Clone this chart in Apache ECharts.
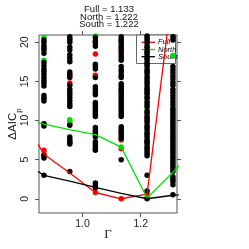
<!DOCTYPE html>
<html><head><meta charset="utf-8">
<script src="https://cdn.jsdelivr.net/npm/echarts@6/dist/echarts.min.js"></script>
<style>html,body{margin:0;padding:0;background:#fff}#c{width:249px;height:249px}</style>
</head><body><div id="c"></div>
<script>
// Gamma values of the columns
const gammaCols = [0.867, 0.956, 1.044, 1.133, 1.222, 1.311];
// Gamma values of the line vertices (lines extend past the visible range)
const gammaLine = [0.778, 0.867, 0.956, 1.044, 1.133, 1.222, 1.311, 1.4];
const fullLine  = [11.2, 5.7, 3.3, 0.8, 0.0, 0.6, 27.0, 40];
const northLine = [10.35, 9.55, 8.85, 8.2, 6.6, 0.1, 3.4, 6.9];
const southLine = [5.1, 3.0, 2.25, 1.45, 0.7, 0.0, 0.45, 0.7];

// Candidate points per column
const blackPts = [
  [20.3, 20.0, 19.6, 19.3, 19.0, 18.6, 17.4, 17.0, 16.6, 16.3, 15.9, 15.5, 15.1, 14.8, 14.4, 13.2, 12.8, 12.5, 9.6, 9.3, 5.5, 5.2, 3.0],
  [20.7, 20.4, 20.0, 19.4, 19.0, 18.4, 18.0, 17.5, 16.2, 15.8, 15.5, 14.5, 14.0, 13.6, 13.3, 12.9, 12.5, 12.1, 11.8, 9.4, 7.9, 7.6, 7.3, 7.0, 3.5],
  [20.6, 20.2, 19.9, 19.5, 17.2, 16.9, 16.6, 15.5, 14.3, 14.0, 13.6, 13.3, 12.3, 12.0, 11.7, 11.4, 11.1, 10.8, 10.5, 9.1, 8.8, 8.5, 8.2, 7.9, 7.3, 7.0, 6.7, 6.4, 6.2, 2.0, 1.7, 1.4],
  [20.7, 20.4, 20.1, 19.7, 19.4, 19.0, 18.7, 18.3, 18.0, 17.7, 16.9, 16.5, 16.2, 15.8, 15.5, 14.7, 14.4, 14.1, 13.8, 13.5, 13.2, 12.9, 12.6, 12.3, 12.0, 11.7, 11.4, 11.1, 10.8, 10.5, 9.2, 8.9, 8.6, 8.3, 8.0, 7.7, 5.0],
  [20.8, 20.5, 20.2, 19.9, 19.5, 19.3, 18.9, 18.7, 18.4, 18.0, 17.8, 17.4, 17.2, 16.9, 16.5, 16.3, 16.0, 15.6, 15.3, 15.0, 14.7, 14.3, 14.0, 13.6, 13.4, 13.0, 12.8, 12.4, 12.1, 11.8, 11.2, 10.9, 10.5, 10.3, 10.0, 9.7, 9.3, 9.1, 8.8, 8.4, 8.2, 7.9, 7.5, 7.3, 7.0, 6.6, 6.4, 6.1, 5.8, 5.5, 3.0, 1.0, 0.0],
  [20.7, 20.3, 16.9, 16.5, 16.1, 15.7, 15.3, 14.9, 14.5, 14.0, 13.6, 13.2, 12.8, 12.4, 12.0, 11.6, 11.3, 11.0, 10.7, 10.4, 10.1, 9.8, 9.5, 9.2, 8.9, 8.6, 8.3, 8.0, 7.7, 7.4, 7.1, 6.8, 6.5, 6.2, 5.9, 5.6, 5.3, 5.0, 4.7, 4.4, 4.1, 3.8, 3.5, 2.8, 2.5, 2.2, 1.8, 0.5]
];
const redPts = [
  [6.2, 5.7],
  [15.9, 14.8, 9.6, 7.2],
  [18.5, 15.8, 0.8],
  [20.2, 19.2, 13.9, 8.4, 7.5, 6.4, 0.0],
  [13.9, 7.3, 0.6],
  []
];
const greenPts = [
  [20.6, 17.7, 12.9, 9.6],
  [20.3, 17.7, 10.1, 9.9],
  [20.8, 20.0, 8.4],
  [6.6],
  [11.5, 0.1],
  [18.3]
];
const yTicks = [0, 5, 10, 15, 20];
const xTicks = [1.0, 1.2];
const titleLines = ['Full = 1.133', 'North = 1.222', 'South = 1.222'];
const legendNames = ['Full', 'North', 'South'];
const colors = {Full: '#FF0000', North: '#00E000', South: '#000000'};

function pts(arr) {
  const out = [];
  arr.forEach((col, i) => col.forEach(v => out.push([gammaCols[i], v])));
  return out;
}
function line(vals) { return gammaLine.map((g, i) => [g, vals[i]]); }

const chart = echarts.init(document.getElementById('c'), null, {renderer: 'canvas'});
const axisCol = '#555';
const font = 'Liberation Sans, Arial, Helvetica, sans-serif';

const gLeft = 39, gRight = 72, gTop = 35, gBottom = 36;

const graphic = [];
titleLines.forEach((t, i) => {
  graphic.push({type: 'text', x: 109, y: 9.7 + i * 7.3, z: 10,
    style: {text: t, font: '9.5px ' + font, fill: '#111', align: 'center', verticalAlign: 'middle'}});
});
// legend box
graphic.push({type: 'rect', z: 0, shape: {x: 136.5, y: 35, width: 39, height: 28.5},
  style: {fill: '#fff', stroke: '#666', lineWidth: 1}});
legendNames.forEach((n, i) => {
  const yy = 42.3 + i * 7.2;
  graphic.push({type: 'line', z: 0, shape: {x1: 141.5, y1: yy, x2: 155, y2: yy},
    style: {stroke: colors[n], lineWidth: 1.3}});
  graphic.push({type: 'text', z: 0, x: 158, y: yy,
    style: {text: n, font: 'italic 7.5px ' + font, fill: '#000', align: 'left', verticalAlign: 'middle'}});
});

const baseAxis = {
  axisLine: {show: false, onZero: false}, splitLine: {show: false}, nameMoveOverlap: false
};

const option = {
  animation: false,
  backgroundColor: '#fff',
  grid: {left: gLeft, right: gRight, top: gTop, bottom: gBottom, show: true,
    outerBoundsMode: 'none', containLabel: false,
    borderColor: axisCol, borderWidth: 1, backgroundColor: 'transparent'},
  xAxis: [Object.assign({}, baseAxis, {
    type: 'value', min: 0.85, max: 1.325, position: 'bottom',
    name: 'Γ', nameLocation: 'middle', nameGap: 15,
    nameTextStyle: {fontFamily: 'Liberation Serif, DejaVu Serif, serif', fontSize: 13, color: '#222'},
    axisTick: {show: true, length: 4, customValues: xTicks, lineStyle: {color: axisCol}},
    axisLabel: {show: true, customValues: xTicks, margin: 6, fontSize: 10.5, fontFamily: font, color: '#222',
      formatter: v => v.toFixed(1)}
  }), Object.assign({}, baseAxis, {
    type: 'value', min: 0.85, max: 1.325, position: 'top',
    axisTick: {show: true, length: 4, customValues: xTicks, lineStyle: {color: axisCol}},
    axisLabel: {show: false}
  })],
  yAxis: [Object.assign({}, baseAxis, {
    type: 'value', min: -1.82, max: 20.93, position: 'left',
    name: '{a|ΔAIC}{b|p}', nameLocation: 'middle', nameGap: 20, nameRotate: 90,
    nameTextStyle: {rich: {
      a: {fontFamily: font, fontSize: 11.5, color: '#222'},
      b: {fontFamily: font, fontSize: 8, color: '#222', verticalAlign: 'bottom', padding: [0, 0, -4, 0]}
    }},
    axisTick: {show: true, length: 4, customValues: yTicks, lineStyle: {color: axisCol}},
    axisLabel: {show: true, customValues: yTicks, rotate: 90, margin: 8, fontSize: 10.5, fontFamily: font, color: '#222'}
  }), Object.assign({}, baseAxis, {
    type: 'value', min: -1.82, max: 20.93, position: 'right',
    axisTick: {show: true, length: 4, customValues: yTicks, lineStyle: {color: axisCol}},
    axisLabel: {show: false}
  })],
  graphic: graphic,
  series: [
    {type: 'scatter', name: 'FullPts', data: pts(redPts), symbolSize: 5.5, itemStyle: {color: colors.Full, opacity: 1}, z: 3},
    {type: 'scatter', name: 'NorthPts', data: pts(greenPts), symbolSize: 5.5, itemStyle: {color: colors.North, opacity: 1}, z: 3},
    {type: 'scatter', name: 'SouthPts', data: pts(blackPts), symbolSize: 5.5, itemStyle: {color: '#000', opacity: 1}, z: 3},
    {type: 'line', name: 'Full', data: line(fullLine), showSymbol: false, clip: true, lineStyle: {color: colors.Full, width: 1.3}, z: 4},
    {type: 'line', name: 'North', data: line(northLine), showSymbol: false, clip: true, lineStyle: {color: colors.North, width: 1.3}, z: 4},
    {type: 'line', name: 'South', data: line(southLine), showSymbol: false, clip: true, lineStyle: {color: colors.South, width: 1.3}, z: 4}
  ]
};
chart.setOption(option);
</script></body></html>
